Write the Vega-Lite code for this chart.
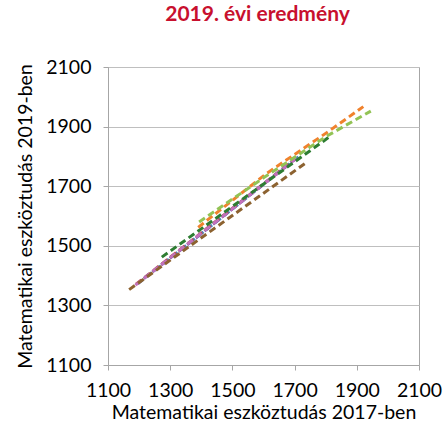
{
  "$schema": "https://vega.github.io/schema/vega-lite/v6.json",
  "autosize": {"type": "none"},
  "padding": {"left": 108, "top": 67, "right": 26, "bottom": 65},
  "width": 311,
  "height": 298,
  "background": "white",
  "title": {
    "text": "2019. évi eredmény",
    "font": "Lato",
    "fontSize": 21,
    "fontWeight": "bold",
    "color": "#C8102E",
    "anchor": "middle",
    "frame": "group",
    "offset": 32,
    "dx": -6
  },
  "config": {
    "view": {"stroke": "#A6A6A6", "strokeWidth": 1},
    "axis": {
      "labelFont": "Lato",
      "titleFont": "Lato",
      "labelFontSize": 19.5,
      "titleFontSize": 19.5,
      "titleFontWeight": "normal",
      "labelColor": "#000000",
      "titleColor": "#000000",
      "domainColor": "#A6A6A6",
      "tickColor": "#A6A6A6",
      "gridColor": "#BFBFBF",
      "tickSize": 5,
      "labelOverlap": false,
      "labelFlush": false,
      "format": "d"
    }
  },
  "data": {
    "values": [
      {"series": "blue", "x": 1195, "y": 1372},
      {"series": "blue", "x": 1720, "y": 1805},
      {"series": "red", "x": 1190, "y": 1371},
      {"series": "red", "x": 1690, "y": 1782},
      {"series": "purple", "x": 1215, "y": 1390},
      {"series": "purple", "x": 1365, "y": 1512},
      {"series": "purple", "x": 1700, "y": 1790},
      {"series": "pink", "x": 1188, "y": 1368},
      {"series": "pink", "x": 1705, "y": 1793},
      {"series": "brown", "x": 1168, "y": 1353},
      {"series": "brown", "x": 1741, "y": 1782},
      {"series": "darkgreen", "x": 1273, "y": 1462},
      {"series": "darkgreen", "x": 1819, "y": 1871},
      {"series": "orange", "x": 1390, "y": 1562},
      {"series": "orange", "x": 1610, "y": 1743},
      {"series": "orange", "x": 1808, "y": 1883},
      {"series": "orange", "x": 1921, "y": 1967},
      {"series": "lightgreen", "x": 1393, "y": 1580},
      {"series": "lightgreen", "x": 1600, "y": 1728},
      {"series": "lightgreen", "x": 1800, "y": 1866},
      {"series": "lightgreen", "x": 1945, "y": 1952}
    ]
  },
  "mark": {"type": "line", "strokeDash": [7, 4], "strokeWidth": 3, "clip": true},
  "encoding": {
    "x": {
      "field": "x",
      "type": "quantitative",
      "scale": {"domain": [1100, 2100], "nice": false, "zero": false},
      "axis": {
        "values": [1100, 1300, 1500, 1700, 1900, 2100],
        "grid": false,
        "labelPadding": 11,
        "titlePadding": 4,
        "title": "Matematikai eszköztudás 2017-ben"
      }
    },
    "y": {
      "field": "y",
      "type": "quantitative",
      "scale": {"domain": [1100, 2100], "nice": false, "zero": false},
      "axis": {
        "values": [1100, 1300, 1500, 1700, 1900, 2100],
        "grid": true,
        "labelPadding": 12,
        "titlePadding": 10,
        "title": "Matematikai eszköztudás 2019-ben"
      }
    },
    "color": {
      "field": "series",
      "type": "nominal",
      "legend": null,
      "scale": {
        "domain": ["blue", "red", "purple", "pink", "brown", "darkgreen", "orange", "lightgreen"],
        "range": ["#4F81BD", "#C0504D", "#6E5AA5", "#C471BA", "#8C6230", "#2E7D32", "#F0822D", "#92C355"]
      }
    },
    "order": {"field": "x", "type": "quantitative"}
  }
}
